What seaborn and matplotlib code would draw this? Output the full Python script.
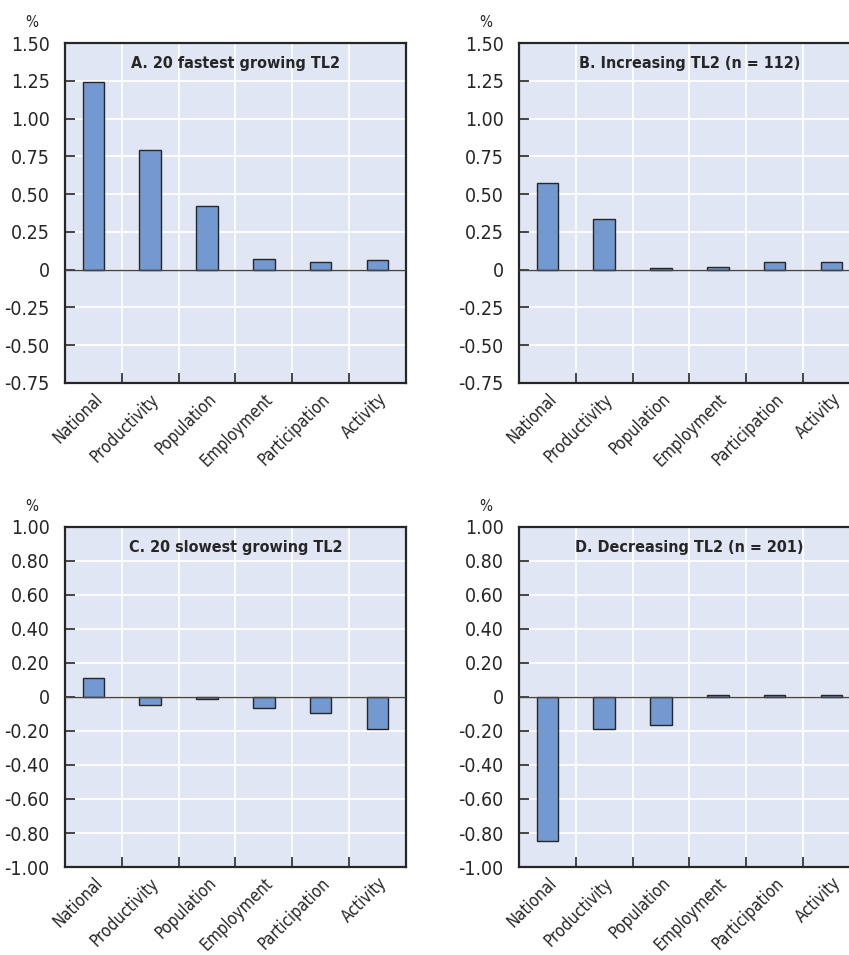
import matplotlib
matplotlib.use("Agg")
import matplotlib.pyplot as plt
import seaborn as sns
import pandas as pd

# Components of regional growth, four groups of TL2 regions
categories = ["National", "Productivity", "Population", "Employment", "Participation", "Activity"]
vals_a = [1.24, 0.79, 0.42, 0.07, 0.05, 0.065]
vals_b = [0.575, 0.335, 0.008, 0.02, 0.053, 0.048]
vals_c = [0.112, -0.049, -0.012, -0.065, -0.094, -0.186]
vals_d = [-0.845, -0.188, -0.167, 0.014, 0.01, 0.014]
titles = ["A. 20 fastest growing TL2", "B. Increasing TL2 (n = 112)",
          "C. 20 slowest growing TL2", "D. Decreasing TL2 (n = 201)"]
yticks_top = [1.50, 1.25, 1.00, 0.75, 0.50, 0.25, 0.0, -0.25, -0.50, -0.75]
yticks_bottom = [1.00, 0.80, 0.60, 0.40, 0.20, 0.0, -0.20, -0.40, -0.60, -0.80, -1.00]

BG = "#e1e6f4"
BAR = "#7399d0"
DARK = "#262626"

sns.set_theme(style="white")
plt.rcParams["font.family"] = ["DejaVu Sans"]
plt.rcParams["font.stretch"] = "condensed"

fig = plt.figure(figsize=(8.49, 9.55), dpi=100)
W, H = 849, 955
# left, top of each axes box in pixels
boxes = [(65, 43), (519, 43), (65, 527), (519, 527)]
aw, ah = 340.7, 340

panels = [vals_a, vals_b, vals_c, vals_d]
for i, (vals, title) in enumerate(zip(panels, titles)):
    left, top = boxes[i]
    ax = fig.add_axes([left / W, (H - top - ah) / H, aw / W, ah / H])
    ax.set_facecolor(BG)
    df = pd.DataFrame({"component": categories, "value": vals})
    sns.barplot(data=df, x="component", y="value", ax=ax, color=BAR,
                width=0.38, edgecolor=DARK, linewidth=1.0, saturation=1, zorder=3)
    yt = yticks_top if i < 2 else yticks_bottom
    ax.set_ylim(min(yt), max(yt))
    ax.set_xlim(-0.5, len(categories) - 0.5)
    ax.set_yticks(yt)
    ax.set_yticklabels(["0" if v == 0 else f"{v:.2f}" for v in yt])
    ax.set_xticks(range(len(categories)))
    ax.set_xticklabels(categories, rotation=45, ha="right", rotation_mode="anchor")
    ax.set_xticks([k + 0.5 for k in range(len(categories) - 1)], minor=True)
    ax.tick_params(axis="x", which="major", length=0, pad=5, labelsize=12, colors=DARK)
    ax.tick_params(axis="x", which="minor", direction="in", length=7, width=1.2, color=DARK, bottom=True)
    ax.tick_params(axis="y", direction="in", length=7, width=1.2, color=DARK, labelsize=14,
                   labelcolor=DARK, left=True, pad=11)
    ax.grid(False)
    ax.grid(axis="y", which="major", color="white", linewidth=1.3, zorder=0)
    ax.grid(axis="x", which="minor", color="white", linewidth=1.3, zorder=0)
    ax.set_axisbelow(True)
    ax.axhline(0, color="#444444", linewidth=1.0, zorder=4)
    for sp in ax.spines.values():
        sp.set_color(DARK)
        sp.set_linewidth(1.6)
    ax.set_xlabel("")
    ax.set_ylabel("")
    ax.text(0.5, 0.94, title, transform=ax.transAxes, ha="center", va="center",
            fontsize=11.5, fontweight="bold", color=DARK)
    ax.text(-0.097, 1.06, "%", transform=ax.transAxes, ha="center", va="center",
            fontsize=11, color=DARK)

fig.savefig("out.png", dpi=100)
